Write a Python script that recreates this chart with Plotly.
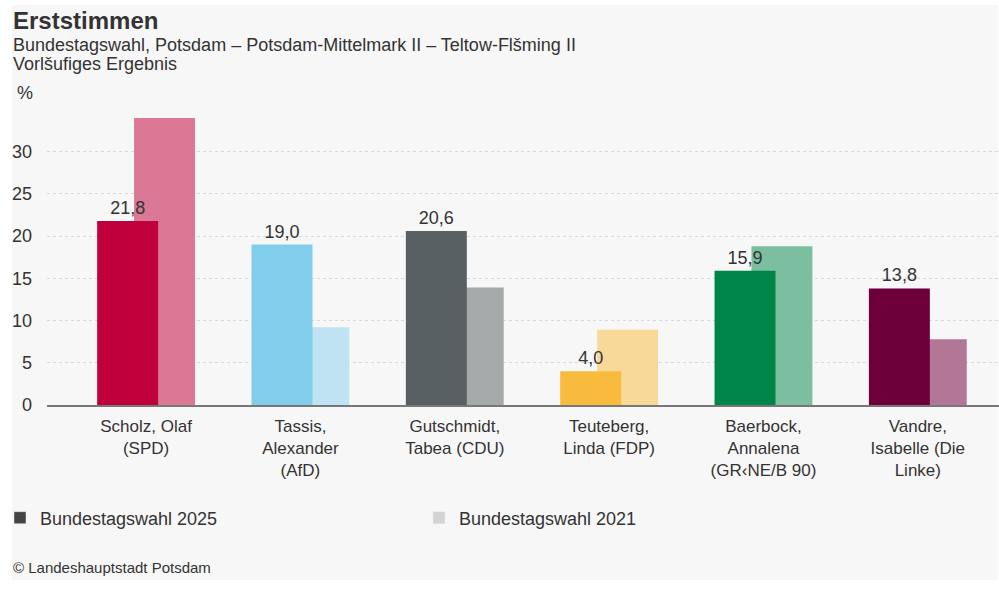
import plotly.graph_objects as go

categories = ["Scholz, Olaf<br>(SPD)", "Tassis,<br>Alexander<br>(AfD)", "Gutschmidt,<br>Tabea (CDU)",
              "Teuteberg,<br>Linda (FDP)", "Baerbock,<br>Annalena<br>(GR‹NE/B 90)", "Vandre,<br>Isabelle (Die<br>Linke)"]
values_2025 = [21.8, 19.0, 20.6, 4.0, 15.9, 13.8]
values_2021 = [34.0, 9.2, 13.9, 8.9, 18.8, 7.8]
colors_2025 = ["#c0003c", "#80cdec", "#596064", "#f8bb3e", "#008548", "#6d003a"]
colors_2021 = ["#da7896", "#bfe3f3", "#a5a9a9", "#f8d998", "#7cbea0", "#b27797"]
y_ticks = [0, 5, 10, 15, 20, 25, 30]

FONT = "Liberation Sans, Arial, sans-serif"
TXT = "#333333"

W, H = 999, 590
L, R, T, B = 47, 0, 101, 185
PH = H - T - B
PW = W - L - R

def py(p):
    return (H - B - p) / PH

def px(x):
    return (x - L) / PW

fig = go.Figure()
fig.add_trace(go.Bar(
    x=categories, y=values_2021, marker=dict(color=colors_2021, line=dict(width=0)),
    offset=-0.078, width=0.395, showlegend=False, hoverinfo="skip"))
fig.add_trace(go.Bar(
    x=categories, y=values_2025, marker=dict(color=colors_2025, line=dict(width=0)),
    offset=-0.317, width=0.395, showlegend=False, hoverinfo="skip",
    text=[f"{v:.1f}".replace(".", ",") for v in values_2025], textposition="outside",
    textfont=dict(size=18, color=TXT, family=FONT), cliponaxis=False))
# legend entries
fig.add_trace(go.Bar(x=[None], y=[None], name="Bundestagswahl 2025", marker_color="#444444"))
fig.add_trace(go.Bar(x=[None], y=[None], name="Bundestagswahl 2021", marker_color="#d3d3d3"))

fig.update_layout(
    width=W, height=H, margin=dict(l=L, r=R, t=T, b=B),
    barmode="overlay",
    paper_bgcolor="white", plot_bgcolor="rgba(0,0,0,0)",
    font=dict(family=FONT, size=18, color=TXT),
    showlegend=True,
    legend=dict(orientation="h", xref="container", yref="container", x=0, y=(H - 518) / H,
                yanchor="middle", xanchor="left", entrywidth=374, entrywidthmode="pixels",
                itemwidth=30,
                font=dict(size=18, color=TXT), bgcolor="rgba(0,0,0,0)", itemclick=False),
    xaxis=dict(type="category", range=[-0.642, 5.526], showline=True, linecolor="#777777",
               linewidth=1.5, ticks="", showgrid=False, tickfont=dict(size=17, color=TXT),
               ticklabelstandoff=5, fixedrange=True),
    yaxis=dict(range=[0, 36], tickvals=y_ticks, showgrid=True, gridcolor="#d9d9d9",
               griddash="3px,3px", zeroline=False, showline=False, ticks="",
               ticklabelstandoff=14, tickfont=dict(size=18, color=TXT), fixedrange=True),
    shapes=[dict(type="rect", xref="paper", yref="paper", x0=px(12), x1=px(998), y0=py(580), y1=py(5),
                 fillcolor="#f7f7f7", line=dict(width=0), layer="below")],
    annotations=[
        dict(text="<b>Erststimmen</b>", xref="paper", yref="paper", x=px(11), y=py(20),
             xanchor="left", yanchor="middle", showarrow=False, font=dict(size=24, color=TXT)),
        dict(text="Bundestagswahl, Potsdam – Potsdam-Mittelmark II – Teltow-Flšming II", xref="paper",
             yref="paper", x=px(11), y=py(45), xanchor="left", yanchor="middle", showarrow=False,
             font=dict(size=18, color=TXT)),
        dict(text="Vorlšufiges Ergebnis", xref="paper", yref="paper", x=px(11), y=py(64),
             xanchor="left", yanchor="middle", showarrow=False, font=dict(size=18, color=TXT)),
        dict(text="%", xref="paper", yref="paper", x=px(15), y=py(93),
             xanchor="left", yanchor="middle", showarrow=False, font=dict(size=18, color=TXT)),
        dict(text="© Landeshauptstadt Potsdam", xref="paper", yref="paper", x=px(11), y=py(567),
             xanchor="left", yanchor="middle", showarrow=False, font=dict(size=15, color=TXT)),
    ],
)

fig.write_html("out.html", config={"displayModeBar": False})
